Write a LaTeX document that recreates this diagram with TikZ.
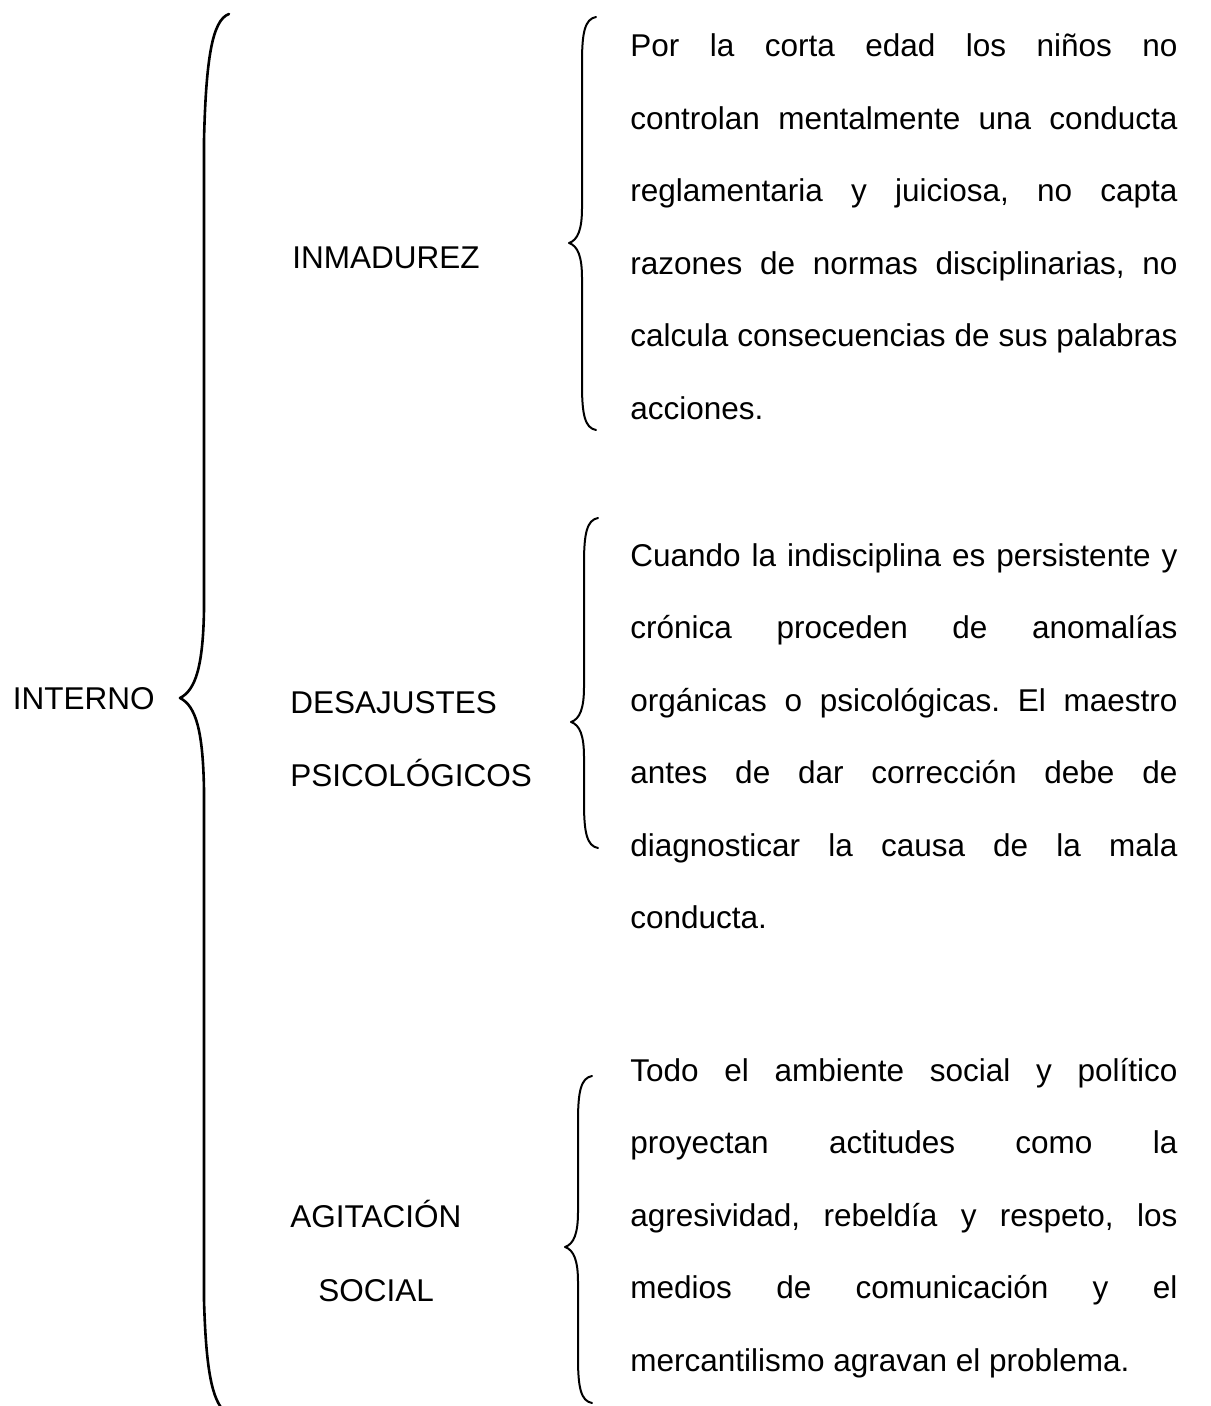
\documentclass[tikz,border=0pt]{standalone}
\usepackage{fontspec}
\setmainfont{Liberation Sans}
\usetikzlibrary{
  positioning
}
\tikzset{
  x = 0.5pt,
  y = -0.5pt,
  every node/.style = {inner sep = 0pt, font = \fontsize{15.75}{36.25}\selectfont},
  heading/.style = {anchor = base west},
  detail/.style = {anchor = base west, text width = 273.5pt, align = justify},
  curly/.style = {line width = 1pt, line cap = round, line join = round},
}
\newcommand{\curlybrace}[4]{%
  \draw[curly] ({#1+14},#2) .. controls ({#1+3},{#2+2}) and (#1,{#2+15}) .. (#1,{#2+45})
    -- (#1,{#3-35}) .. controls (#1,{#3-14}) and ({#1-4},{#3-3}) .. ({#1-13},#3)
    .. controls ({#1-4},{#3+3}) and (#1,{#3+14}) .. (#1,{#3+35})
    -- (#1,{#4-45}) .. controls (#1,{#4-15}) and ({#1+3},{#4-2}) .. ({#1+14},#4);%
}
\hyphenpenalty=10000
\exhyphenpenalty=10000
\tolerance=10000
\frenchspacing

\begin{document}
\begin{tikzpicture}
  \useasboundingbox (0,0) rectangle (1210,1406);

  \node[anchor = base east] (interno) at (155,709) {INTERNO};

  \node[heading] (inma) at (292,269) {INMADUREZ};
  \node[heading] (desa) at (290,713) {DESAJUSTES};
  \node[heading] (psico) at (290,786) {PSICOLÓGICOS};
  \node[heading] (agit) at (290,1227) {AGITACIÓN};
  \node[heading] (social) at (318,1301) {SOCIAL};

  \node[detail] (inmatext) at (630,57) {Por la corta edad los niños no\linebreak
    controlan mentalmente una conducta\linebreak
    reglamentaria y juiciosa, no capta\linebreak
    razones de normas disciplinarias, no\linebreak
    calcula consecuencias de sus palabras\linebreak
    acciones.};
  \node[detail] (desatext) at (630,566) {Cuando la indisciplina es persistente y\linebreak
    crónica proceden de anomalías\linebreak
    orgánicas o psicológicas. El maestro\linebreak
    antes de dar corrección debe de\linebreak
    diagnosticar la causa de la mala\linebreak
    conducta.};
  \node[detail] (agittext) at (630,1081) {Todo el ambiente social y político\linebreak
    proyectan actitudes como la\linebreak
    agresividad, rebeldía y respeto, los\linebreak
    medios de comunicación y el\linebreak
    mercantilismo agravan el problema.};

  % big brace
  \draw[curly, line width = 1.3pt] (229,14) .. controls (212,20) and (206,60) .. (204,140)
    -- (204,610) .. controls (203,665) and (196,690) .. (180,698)
    .. controls (196,706) and (203,731) .. (204,790)
    -- (204,1300) .. controls (206,1370) and (212,1400) .. (225,1412);

  % small braces
  \curlybrace{582}{17}{243}{430}
  \curlybrace{584}{518}{722}{848}
  \curlybrace{578}{1076}{1247}{1403}
\end{tikzpicture}
\end{document}
